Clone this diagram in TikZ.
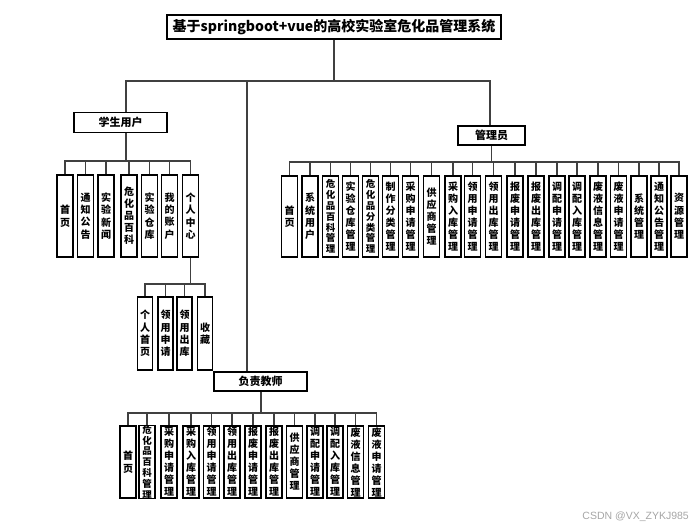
\documentclass[tikz,border=0pt]{standalone}
\usepackage{fontspec}
\newfontfamily\cjk{Noto Sans CJK SC}
\setsansfont{Liberation Sans}
\newcommand\lf[2]{\cjk\bfseries\fontsize{#1}{#2}\selectfont}
\tikzset{
  conn/.style={draw=black!75, line width=1.2pt},
  titlebox/.style={draw, line width=1.1pt, inner sep=0pt, minimum width=334pt, minimum height=24pt, font=\lf{14}{16}},
  rolebox/.style={draw, line width=1.1pt, inner sep=0pt, font=\lf{11}{13}},
  leaf/.style={draw, line width=1.1pt, inner sep=0pt, minimum width=16pt, align=center, font=\lf{10}{12.3}},
  c2/.style={font=\lf{10}{12.5}},
  c4/.style={font=\lf{10}{12.3}},
  c5/.style={font=\lf{10}{12}},
  c6/.style={font=\lf{10}{12}},
  c7/.style={font=\lf{9.5}{10.8}},
}
\begin{document}
\begin{tikzpicture}[x=1pt,y=-1pt]
\fill[white] (0,0) rectangle (694,530);
\useasboundingbox (0,0) rectangle (694,530);

% top level and the three roles
\node[titlebox] (title) at (334,27) {基于springboot+vue的高校实验室危化品管理系统};
\node[rolebox, minimum width=93pt, minimum height=20pt] (stu) at (120.5,122.5) {学生用户};
\node[rolebox, minimum width=67pt, minimum height=19pt] (adm) at (491.5,135.5) {管理员};
\node[rolebox, minimum width=93pt, minimum height=19pt] (tch) at (260.5,381.5) {负责教师};

% student functions
\foreach \x/\s/\t [count=\i] in {65/c2/{首\\页}, 85.5/c4/{通\\知\\公\\告}, 106/c4/{实\\验\\新\\闻}, 129/c5/{危\\化\\品\\百\\科}, 149.5/c4/{实\\验\\仓\\库}, 169.5/c4/{我\\的\\账\\户}, 190.5/c4/{个\\人\\中\\心}}
  \node[leaf, \s, minimum height=82pt] (s\i) at (\x,216) {\t};

% personal centre
\foreach \x/\s/\t [count=\i] in {145/c4/{个\\人\\首\\页}, 165.5/c4/{领\\用\\申\\请}, 184.5/c4/{领\\用\\出\\库}, 205/c2/{收\\藏}}
  \node[leaf, \s, minimum width=15pt, minimum height=73pt] (p\i) at (\x,333.5) {\t};

% administrator functions
\foreach \x/\s/\t [count=\i] in {
  289.5/c2/{首\\页}, 310/c4/{系\\统\\用\\户}, 330.5/c7/{危\\化\\品\\百\\科\\管\\理},
  350.5/c6/{实\\验\\仓\\库\\管\\理}, 370.5/c7/{危\\化\\品\\分\\类\\管\\理}, 390.5/c6/{制\\作\\分\\类\\管\\理},
  410.5/c6/{采\\购\\申\\请\\管\\理}, 431.5/c5/{供\\应\\商\\管\\理}, 453/c6/{采\\购\\入\\库\\管\\理},
  472.5/c6/{领\\用\\申\\请\\管\\理}, 493.5/c6/{领\\用\\出\\库\\管\\理}, 515/c6/{报\\废\\申\\请\\管\\理},
  536/c6/{报\\废\\出\\库\\管\\理}, 557/c6/{调\\配\\申\\请\\管\\理}, 577/c6/{调\\配\\入\\库\\管\\理},
  598/c6/{废\\液\\信\\息\\管\\理}, 618.5/c6/{废\\液\\申\\请\\管\\理}, 639/c4/{系\\统\\管\\理},
  659/c6/{通\\知\\公\\告\\管\\理}, 679/c4/{资\\源\\管\\理}}
  \node[leaf, \s, minimum height=81pt] (a\i) at (\x,216.5) {\t};

% teacher functions
\foreach \x/\s/\t [count=\i] in {
  128/c2/{首\\页}, 147/c7/{危\\化\\品\\百\\科\\管\\理}, 169/c6/{采\\购\\申\\请\\管\\理},
  191/c6/{采\\购\\入\\库\\管\\理}, 211.5/c6/{领\\用\\申\\请\\管\\理}, 232/c6/{领\\用\\出\\库\\管\\理},
  253/c6/{报\\废\\申\\请\\管\\理}, 274/c6/{报\\废\\出\\库\\管\\理}, 294.5/c5/{供\\应\\商\\管\\理},
  315/c6/{调\\配\\申\\请\\管\\理}, 335/c6/{调\\配\\入\\库\\管\\理}, 355.5/c6/{废\\液\\信\\息\\管\\理},
  376.5/c6/{废\\液\\申\\请\\管\\理}}
  \node[leaf, \s, minimum height=72pt] (t\i) at (\x,462) {\t};

% connectors from the title to the roles
\coordinate (j0) at (334,81);
\draw[conn] (title.south) -- (j0);
\draw[conn] (j0) -| ([xshift=5.5pt]stu.north);
\draw[conn] (j0) -| ([xshift=-1.5pt]adm.north);
\draw[conn] (j0) -| ([xshift=-13.5pt]tch.north);

% student tree
\coordinate (sj) at (126,161);
\draw[conn] ([xshift=5.5pt]stu.south) -- (sj);
\foreach \i in {1,...,7} \draw[conn] (sj) -| (s\i.north);

\coordinate (pj) at (190.5,284);
\draw[conn] (s7.south) -- (pj);
\foreach \i in {1,...,4} \draw[conn] (pj) -| (p\i.north);

% administrator tree
\coordinate (aj) at (491.5,162);
\draw[conn] (adm.south) -- (aj);
\foreach \i in {1,...,20} \draw[conn] (aj) -| (a\i.north);

% teacher tree
\coordinate (tj) at (261,413);
\draw[conn] ([xshift=0.5pt]tch.south) -- (tj);
\foreach \i in {1,...,13} \draw[conn] (tj) -| (t\i.north);

\node[font=\sffamily\fontsize{10.5}{12}\selectfont, text=black!35, anchor=east, inner sep=0pt] (wm) at (689,517) {CSDN @VX\_ZYKJ985};
\end{tikzpicture}
\end{document}
